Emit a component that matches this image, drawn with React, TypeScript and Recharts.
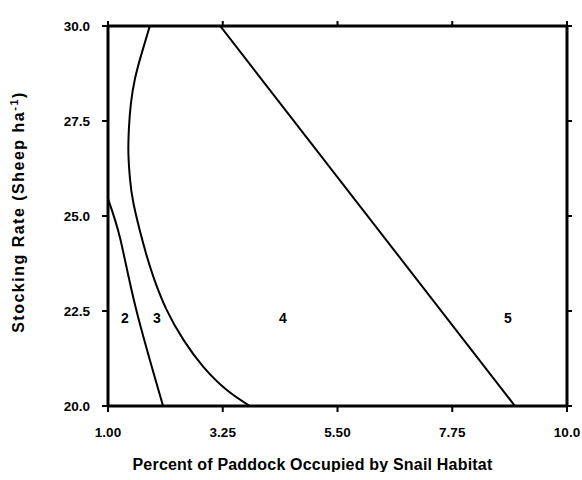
import React from "react";
import {
  LineChart,
  Line,
  XAxis,
  YAxis,
  Label,
  ReferenceDot,
} from "recharts";

const xTicks = [1, 3.25, 5.5, 7.75, 10];
const xTickLabels = ["1.00", "3.25", "5.50", "7.75", "10.0"];
const yTicks = [20, 22.5, 25, 27.5, 30];
const yTickLabels = ["20.0", "22.5", "25.0", "27.5", "30.0"];

// boundary curves between regions (x = % paddock, y = sheep/ha)
const boundary2X = [1.0, 1.24, 1.55, 2.08];
const boundary2Y = [25.45, 24.4, 22.55, 20.0];

const boundary3X = [1.82, 1.66, 1.53, 1.45, 1.41, 1.4, 1.43, 1.5, 1.69, 1.89, 2.15, 2.48, 2.87, 3.33, 3.78];
const boundary3Y = [30.0, 29.28, 28.62, 27.97, 27.31, 26.65, 25.99, 25.33, 24.28, 23.4, 22.53, 21.74, 21.03, 20.42, 20.0];

const boundary4X = [3.2, 8.98];
const boundary4Y = [30.0, 20.0];

const regionNames = ["2", "3", "4", "5"];
const regionX = [1.33, 1.96, 4.43, 8.84];
const regionY = [22.32, 22.32, 22.32, 22.32];

const toPoints = (xs: number[], ys: number[]) => xs.map((x, i) => ({ x, y: ys[i] }));

const curves = [
  toPoints(boundary2X, boundary2Y),
  toPoints(boundary3X, boundary3Y),
  toPoints(boundary4X, boundary4Y),
];

const FONT = "'Liberation Sans', Arial, Helvetica, sans-serif";
const tickStyle = { fill: "#000", fontSize: 13.5, fontWeight: 700, fontFamily: FONT };
const axisLine = { stroke: "#000", strokeWidth: 3 };
const tickLine = { stroke: "#000", strokeWidth: 2 };

const XTitle = (props: any) => {
  const { x, y, width } = props.viewBox;
  return (
    <text
      x={x + width / 2 - 25}
      y={y + 60}
      textAnchor="middle"
      dominantBaseline="middle"
      fontFamily={FONT}
      fontWeight={700}
      fontSize={16}
      letterSpacing={0.2}
      fill="#000"
    >
      Percent of Paddock Occupied by Snail Habitat
    </text>
  );
};

const YTitle = (props: any) => {
  const { x, y } = props.viewBox;
  const cx = x + 12;
  const cy = y + 186;
  return (
    <text
      x={cx}
      y={cy}
      transform={`rotate(-90 ${cx} ${cy})`}
      textAnchor="middle"
      dominantBaseline="middle"
      fontFamily={FONT}
      fontWeight={700}
      fontSize={16}
      letterSpacing={1.5}
      fill="#000"
    >
      Stocking Rate (Sheep ha
      <tspan fontSize={11} dy={-5}>
        -1
      </tspan>
      <tspan dy={5}>)</tspan>
    </text>
  );
};

const App = () => {
  return (
    <div style={{ position: "absolute", left: 8, top: 8, width: 574, height: 464, overflow: "hidden" }}>
      <LineChart
        width={574}
        height={464}
        margin={{ top: 17, right: 14, bottom: 0, left: 0 }}
      >
        <XAxis
          xAxisId="bottom"
          dataKey="x"
          type="number"
          domain={[1, 10]}
          ticks={xTicks}
          tickFormatter={(v: number) => xTickLabels[xTicks.indexOf(v)]}
          allowDataOverflow
          height={66}
          tick={tickStyle}
          tickMargin={15}
          axisLine={axisLine}
          tickLine={tickLine}
        >
          <Label content={XTitle} />
        </XAxis>
        <XAxis
          xAxisId="top"
          orientation="top"
          dataKey="x"
          type="number"
          domain={[1, 10]}
          ticks={xTicks}
          tickFormatter={() => ""}
          allowDataOverflow
          height={1}
          axisLine={axisLine}
          tickLine={tickLine}
          tickSize={5}
        />
        <YAxis
          yAxisId="left"
          dataKey="y"
          type="number"
          domain={[20, 30]}
          ticks={yTicks}
          tickFormatter={(v: number) => yTickLabels[yTicks.indexOf(v)]}
          allowDataOverflow
          width={100}
          tick={tickStyle}
          tickMargin={12}
          axisLine={axisLine}
          tickLine={tickLine}
        >
          <Label content={YTitle} />
        </YAxis>
        <YAxis
          yAxisId="right"
          orientation="right"
          dataKey="y"
          type="number"
          domain={[20, 30]}
          ticks={yTicks}
          tickFormatter={() => ""}
          allowDataOverflow
          width={1}
          axisLine={axisLine}
          tickLine={tickLine}
          tickSize={5}
        />
        {curves.map((pts, i) => (
          <Line
            key={i}
            xAxisId="bottom"
            yAxisId="left"
            data={pts}
            dataKey="y"
            type="natural"
            stroke="#000"
            strokeWidth={2}
            dot={false}
            activeDot={false}
            isAnimationActive={false}
          />
        ))}
        {regionNames.map((name, i) => (
          <ReferenceDot
            key={name}
            xAxisId="bottom"
            yAxisId="left"
            x={regionX[i]}
            y={regionY[i]}
            r={0}
            stroke="none"
            label={{
              value: name,
              position: "center",
              fill: "#000",
              fontSize: 14,
              fontWeight: 700,
              fontFamily: FONT,
            }}
          />
        ))}
      </LineChart>
    </div>
  );
};

export default App;
